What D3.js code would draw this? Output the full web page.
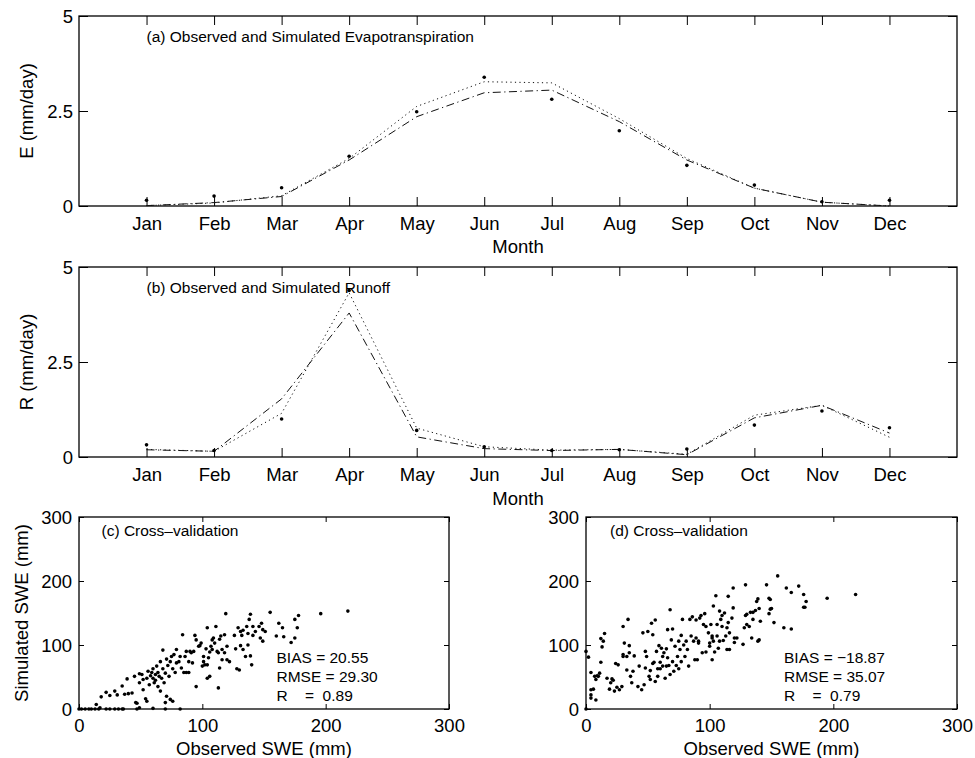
<!DOCTYPE html>
<html>
<head>
<meta charset="utf-8">
<script src="https://cdn.jsdelivr.net/npm/d3@7"></script>
<style>
  html, body { margin: 0; padding: 0; background: #fff; }
  svg { display: block; }
  text { font-family: "Liberation Sans", Arial, Helvetica, sans-serif; fill: #000; }
</style>
</head>
<body>
<svg id="fig" width="975" height="758"></svg>
<script>
// ---- data ----
const months = ["Jan","Feb","Mar","Apr","May","Jun","Jul","Aug","Sep","Oct","Nov","Dec"];
const monthIdx = [1,2,3,4,5,6,7,8,9,10,11,12];
const yTicksMonthly = [0, 2.5, 5];
const yTickLabelsMonthly = ["0", "2.5", "5"];
const sweTicks = [0, 100, 200, 300];

// Evapotranspiration (mm/day)
const etObs    = [0.15, 0.26, 0.48, 1.31, 2.48, 3.39, 2.81, 1.98, 1.07, 0.55, 0.11, 0.15];
const etSimDD  = [0.01, 0.09, 0.25, 1.21, 2.35, 2.98, 3.05, 2.22, 1.21, 0.47, 0.10, 0.00];
const etSimDot = [0.01, 0.08, 0.27, 1.25, 2.62, 3.27, 3.24, 2.30, 1.25, 0.47, 0.10, 0.00];

// Runoff (mm/day)
const rObs    = [0.32, 0.17, 1.00, 4.38, 0.70, 0.27, 0.17, 0.19, 0.21, 0.84, 1.21, 0.77];
const rSimDD  = [0.19, 0.15, 1.53, 3.79, 0.53, 0.22, 0.17, 0.20, 0.06, 1.03, 1.36, 0.63];
const rSimDot = [0.20, 0.15, 1.15, 4.32, 0.76, 0.27, 0.18, 0.20, 0.07, 1.10, 1.36, 0.52];

// SWE cross-validation, [observed, simulated] in mm
const sweC = [[0,0],[2,0],[5,0],[8,0],[10,0],[13,0],[16,0],[17,2],[22,0],[25,0],[29,0],[32,0],[35,0],[36,0],[47,0],[49,2],[60,1],[70,0],[82,0],[14,7],[46,10],
[18,19],[22,26],[25,21],[29,28],[31,22],[35,36],[39,47],[37,23],[40,24],[43,25],[45,51],[47,9],[49,55],[49,41],[51,54],[52,30],[52,46],[54,16],[55,48],[55,12],[56,59],[57,38],[58,52],[59,57],[60,48],[60,63],[61,41],[62,54],[62,45],[63,67],[64,57],[64,35],[65,51],[66,28],[66,74],[67,48],[68,63],[68,92],[69,41],[70,56],[70,10],[71,78],[71,20],[72,68],[73,51],[74,74],[74,15],[75,82],[76,63],[76,12],[77,85],[78,57],[79,72],[79,93],[81,74],[82,82],[83,64],[84,116],[85,57],[86,82],[87,57],[87,90],[89,57],[89,74],[90,90],[91,88],[92,72],[93,90],[94,115],[95,108],[95,35],[97,98],[98,99],[99,103],[100,67],[101,74],[101,82],[102,69],[103,94],[104,127],[104,48],[104,69],[105,80],[106,89],[106,51],[107,98],[108,108],[108,93],[109,111],[110,103],[111,129],[112,90],[113,33],[113,88],[114,109],[114,64],[115,114],[116,77],[116,93],[118,116],[118,88],[119,149],[120,98],[120,77],[122,74],[126,115],[127,94],[128,63],[129,127],[130,61],[131,121],[131,99],[132,115],[133,123],[133,93],[135,82],[136,129],[137,100],[137,118],[138,140],[139,148],[139,83],[140,69],[141,115],[141,129],[143,121],[146,129],[147,111],[148,134],[149,106],[149,124],[151,121],[155,151],[160,114],[162,134],[165,127],[166,113],[172,104],[175,140],[175,111],[177,127],[178,146],[196,149],[218,153]];

const sweD = [[0,0],[0,90],[2,81],[4,57],[4,30],[4,22],[4,17],[6,31],[7,51],[8,46],[8,14],[9,52],[10,51],[11,56],[12,110],[12,73],[13,97],[14,106],[15,118],[17,48],[19,31],[20,41],[21,47],[22,45],[23,28],[24,71],[25,34],[26,69],[27,30],[29,35],[30,129],[30,85],[30,82],[31,103],[33,61],[33,82],[34,140],[35,88],[35,99],[36,51],[37,41],[38,59],[39,83],[42,35],[43,67],[45,30],[46,119],[47,38],[48,64],[48,90],[49,82],[50,121],[51,51],[52,60],[52,46],[53,134],[54,71],[54,116],[55,73],[56,43],[56,139],[57,90],[58,51],[58,63],[59,99],[60,73],[60,63],[61,95],[62,82],[62,67],[63,88],[64,48],[65,67],[65,94],[66,80],[66,124],[67,68],[68,155],[68,54],[69,108],[70,125],[70,74],[71,59],[72,98],[73,68],[74,82],[75,106],[75,63],[76,93],[77,74],[77,115],[78,140],[79,100],[80,82],[81,106],[82,93],[83,67],[84,140],[85,114],[86,144],[87,106],[88,77],[89,139],[89,111],[90,77],[91,106],[91,103],[92,142],[93,146],[94,88],[95,132],[96,149],[97,89],[97,129],[99,119],[100,103],[100,98],[101,132],[102,77],[102,111],[102,114],[103,161],[103,106],[104,89],[105,177],[106,132],[106,114],[107,95],[108,106],[108,153],[109,140],[110,129],[110,146],[111,107],[112,150],[113,114],[114,93],[114,127],[115,176],[115,135],[116,93],[116,119],[118,142],[119,158],[119,189],[120,104],[120,111],[122,111],[127,101],[128,127],[129,146],[129,194],[130,132],[130,148],[132,129],[133,151],[134,111],[135,151],[135,140],[137,154],[138,168],[139,172],[139,106],[140,108],[140,157],[141,137],[146,194],[148,173],[148,149],[149,171],[149,156],[150,157],[152,135],[155,208],[160,127],[162,189],[166,125],[166,182],[172,192],[176,159],[176,179],[177,159],[178,168],[195,173],[218,179]];

// ---- drawing ----
const svg = d3.select("#fig");
const TICK_FONT = 18.5;
const NOTE_FONT = 15.5;

function frame(g, x0, x1, y0, y1) {
  g.append("rect")
    .attr("x", x0).attr("y", y0)
    .attr("width", x1 - x0).attr("height", y1 - y0)
    .attr("fill", "none").attr("stroke", "#000").attr("stroke-width", 1.3);
}

function styleAxis(sel) {
  sel.select(".domain").remove();
  sel.selectAll(".tick line").attr("stroke", "#000").attr("stroke-width", 1);
  sel.selectAll(".tick text").attr("font-size", TICK_FONT).attr("fill", "#000")
     .style("font-family", "'Liberation Sans', Arial, sans-serif");
}

// monthly panel (a) / (b)
function monthlyPanel(box, obs, simDD, simDot, note, ylabel) {
  const x = d3.scaleLinear().domain([0, 13]).range([box.x0, box.x1]);
  const y = d3.scaleLinear().domain([0, 5]).range([box.y1, box.y0]);
  const g = svg.append("g");
  const tl = 9;

  const bottom = g.append("g").attr("transform", `translate(0,${box.y1})`)
    .call(d3.axisBottom(x).tickValues(monthIdx).tickFormat((d, i) => months[i]).tickSize(-tl));
  styleAxis(bottom);
  bottom.selectAll(".tick text").attr("y", box.labelBase - box.y1).attr("dy", 0);

  const top = g.append("g").attr("transform", `translate(0,${box.y0})`)
    .call(d3.axisTop(x).tickValues(monthIdx).tickFormat("").tickSize(-tl));
  styleAxis(top);

  const left = g.append("g").attr("transform", `translate(${box.x0},0)`)
    .call(d3.axisLeft(y).tickValues(yTicksMonthly).tickFormat((d, i) => yTickLabelsMonthly[i]).tickSize(-tl).tickPadding(6));
  styleAxis(left);
  left.selectAll(".tick text").attr("x", -6).attr("dy", "0.36em");

  const right = g.append("g").attr("transform", `translate(${box.x1},0)`)
    .call(d3.axisRight(y).tickValues(yTicksMonthly).tickFormat("").tickSize(-tl));
  styleAxis(right);

  frame(g, box.x0, box.x1, box.y0, box.y1);

  const line = d3.line().x((d, i) => x(monthIdx[i])).y(d => y(d));
  g.append("path").attr("d", line(simDot))
    .attr("fill", "none").attr("stroke", "#111").attr("stroke-width", 1)
    .attr("stroke-dasharray", "1.2,3.3");
  g.append("path").attr("d", line(simDD))
    .attr("fill", "none").attr("stroke", "#111").attr("stroke-width", 1)
    .attr("stroke-dasharray", "8,3.5,1.2,3.5");

  g.selectAll("circle.obs").data(obs).join("circle")
    .attr("class", "obs")
    .attr("cx", (d, i) => x(monthIdx[i])).attr("cy", d => y(d))
    .attr("r", 1.8).attr("fill", "#000");

  g.append("text").attr("x", x(1)).attr("y", box.noteBase)
    .attr("font-size", NOTE_FONT).text(note);

  g.append("text").attr("x", (box.x0 + box.x1) / 2).attr("y", box.monthBase)
    .attr("text-anchor", "middle").attr("font-size", TICK_FONT).text("Month");

  g.append("text")
    .attr("transform", `translate(33,${(box.y0 + box.y1) / 2}) rotate(-90)`)
    .attr("text-anchor", "middle").attr("font-size", TICK_FONT).text(ylabel);
}

monthlyPanel({x0: 79, x1: 957, y0: 16, y1: 206, labelBase: 230, monthBase: 253, noteBase: 41.5},
  etObs, etSimDD, etSimDot, "(a) Observed and Simulated Evapotranspiration", "E (mm/day)");
monthlyPanel({x0: 79, x1: 957, y0: 267, y1: 457, labelBase: 481, monthBase: 505, noteBase: 292.5},
  rObs, rSimDD, rSimDot, "(b) Observed and Simulated Runoff", "R (mm/day)");

// scatter panel (c) / (d)
function scatterPanel(box, pts, note, stats, showYLabel) {
  const x = d3.scaleLinear().domain([0, 300]).range([box.x0, box.x1]);
  const y = d3.scaleLinear().domain([0, 300]).range([box.y1, box.y0]);
  const g = svg.append("g");
  const tl = 5;

  const bottom = g.append("g").attr("transform", `translate(0,${box.y1})`)
    .call(d3.axisBottom(x).tickValues(sweTicks).tickFormat(d3.format("d")).tickSize(-tl));
  styleAxis(bottom);
  bottom.selectAll(".tick text").attr("y", 731.5 - box.y1).attr("dy", 0);

  const top = g.append("g").attr("transform", `translate(0,${box.y0})`)
    .call(d3.axisTop(x).tickValues(sweTicks).tickFormat("").tickSize(-tl));
  styleAxis(top);

  const left = g.append("g").attr("transform", `translate(${box.x0},0)`)
    .call(d3.axisLeft(y).tickValues(sweTicks).tickFormat(d3.format("d")).tickSize(-tl));
  styleAxis(left);
  left.selectAll(".tick text").attr("x", -7).attr("dy", "0.36em");

  const right = g.append("g").attr("transform", `translate(${box.x1},0)`)
    .call(d3.axisRight(y).tickValues(sweTicks).tickFormat("").tickSize(-tl));
  styleAxis(right);

  frame(g, box.x0, box.x1, box.y0, box.y1);

  g.selectAll("circle.pt").data(pts).join("circle")
    .attr("class", "pt")
    .attr("cx", d => x(d[0])).attr("cy", d => y(d[1]))
    .attr("r", 1.8).attr("fill", "#000");

  g.append("text").attr("x", box.noteX).attr("y", 536)
    .attr("font-size", NOTE_FONT).text(note);

  const statY = [663, 682, 701];
  stats.forEach((s, i) => {
    g.append("text").attr("x", box.statX).attr("y", statY[i])
      .attr("font-size", NOTE_FONT).style("white-space", "pre").text(s);
  });

  g.append("text").attr("x", (box.x0 + box.x1) / 2).attr("y", 755)
    .attr("text-anchor", "middle").attr("font-size", TICK_FONT).text("Observed SWE (mm)");

  if (showYLabel) {
    g.append("text")
      .attr("transform", `translate(28,${(box.y0 + box.y1) / 2}) rotate(-90)`)
      .attr("text-anchor", "middle").attr("font-size", TICK_FONT).text("Simulated SWE (mm)");
  }
}

scatterPanel({x0: 79, x1: 449, y0: 517, y1: 709, noteX: 101.5, statX: 276.5},
  sweC, "(c) Cross\u2013validation", ["BIAS = 20.55", "RMSE = 29.30", "R    =  0.89"], true);
scatterPanel({x0: 586, x1: 957, y0: 517, y1: 709, noteX: 610, statX: 784},
  sweD, "(d) Cross\u2013validation", ["BIAS = \u221218.87", "RMSE = 35.07", "R    =  0.79"], false);
</script>
</body>
</html>
